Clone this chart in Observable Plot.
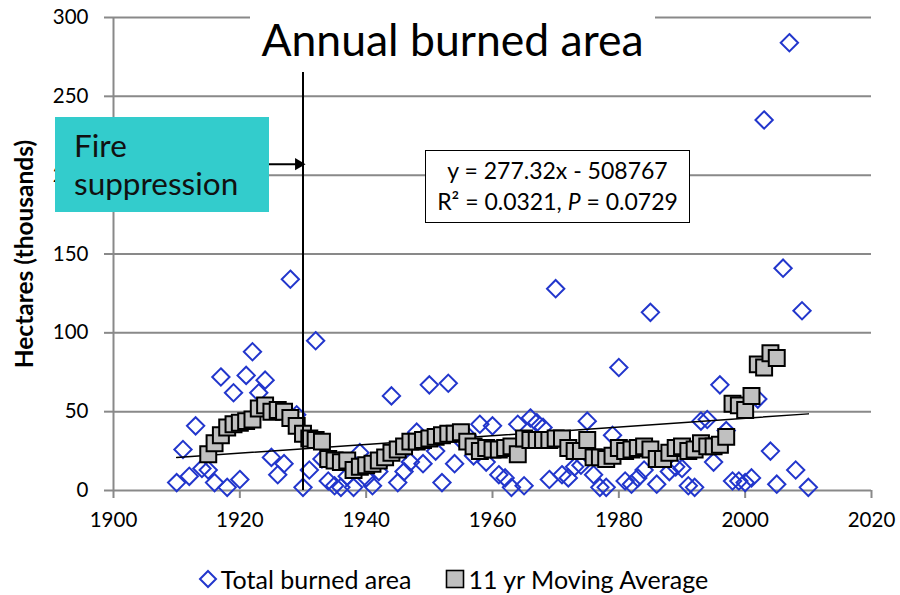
<!DOCTYPE html>
<html><head><meta charset="utf-8">
<script src="https://cdn.jsdelivr.net/npm/d3@7"></script>
<script src="https://cdn.jsdelivr.net/npm/@observablehq/plot@0.6"></script>
<style>
body{margin:0;background:#fff;font-family:Lato,"Open Sans",sans-serif;color:#000;}
#wrap{position:relative;width:900px;height:595px;overflow:hidden;}
#chart svg{display:block;}
#chart g[aria-label="y-axis label"] text{font-weight:bold;font-size:24.5px;}
.title{position:absolute;left:250px;top:0;width:405px;height:72px;background:#fff;text-align:center;font-size:44.5px;padding-top:12px;box-sizing:border-box;line-height:1.2;}
.fire{position:absolute;left:55px;top:117px;width:214px;height:95px;background:#33CCCC;box-sizing:border-box;padding:9px 0 0 19px;font-size:31.5px;line-height:38px;color:#111;}
.eq{position:absolute;left:425px;top:150px;width:265px;height:73px;background:#fff;border:1.5px solid #000;box-sizing:border-box;text-align:center;font-size:23px;line-height:31px;padding-top:4px;}
.legend{position:absolute;left:0;top:560px;width:900px;height:38px;display:flex;justify-content:center;align-items:center;font-size:25px;gap:34px;padding-left:6px;box-sizing:border-box;}
.legend span{display:flex;align-items:center;gap:3px;}
</style></head><body>
<div id="wrap">
  <div id="chart"></div>
  <div class="title">Annual burned area</div>
  <div class="fire">Fire<br>suppression</div>
  <div class="eq">y = 277.32x - 508767<br>R² = 0.0321, <i>P</i> = 0.0729</div>
  <div class="legend">
    <span><svg width="20" height="20"><path d="M10,2L18,10L10,18L2,10Z" fill="none" stroke="#2236cc" stroke-width="2"/></svg>Total burned area</span>
    <span><svg width="20" height="20"><rect x="1.5" y="1.5" width="17" height="17" fill="#c0c0c0" stroke="#000" stroke-width="1.6"/></svg>11 yr Moving Average</span>
  </div>
</div>
<script>
// Annual burned area (thousands of hectares)
const years = [1910,1911,1912,1913,1914,1915,1916,1917,1918,1919,1920,1921,1922,1923,1924,1925,1926,1927,1928,1929,
  1930,1931,1932,1933,1934,1935,1936,1937,1938,1939,1940,1941,1942,1943,1944,1945,1946,1947,1948,1949,
  1950,1951,1952,1953,1954,1955,1956,1957,1958,1959,1960,1961,1962,1963,1964,1965,1966,1967,1968,1969,
  1970,1971,1972,1973,1974,1975,1976,1977,1978,1979,1980,1981,1982,1983,1984,1985,1986,1987,1988,1989,
  1990,1991,1992,1993,1994,1995,1996,1997,1998,1999,2000,2001,2002,2003,2004,2005,2006,2007,2008,2009,2010];
const burned = [5,26,9,41,14,13,5,72,2,62,7,73,88,62,70,21,10,17,134,48,
  2,13,95,20,6,3,2,9,2,24,8,3,12,20,60,5,12,18,37,17,
  67,25,5,68,17,32,35,22,42,18,41,10,8,2,42,3,46,43,40,7,
  128,10,8,15,16,44,10,2,2,35,78,6,4,8,13,113,4,20,12,15,
  14,3,2,44,45,18,67,38,6,6,5,8,58,235,25,4,141,284,13,114,2];

// 11 yr moving average
const maYears = [1915,1916,1917,1918,1919,1920,1921,1922,1923,1924,1925,1926,1927,1928,1929,
  1930,1931,1932,1933,1934,1935,1936,1937,1938,1939,1940,1941,1942,1943,1944,1945,1946,1947,1948,1949,
  1950,1951,1952,1953,1954,1955,1956,1957,1958,1959,1960,1961,1962,1963,1964,1965,1966,1967,1968,1969,
  1970,1971,1972,1973,1974,1975,1976,1977,1978,1979,1980,1981,1982,1983,1984,1985,1986,1987,1988,1989,
  1990,1991,1992,1993,1994,1995,1996,1997,1998,1999,2000,2001,2002,2003,2004,2005];
const maValues = [23,30,35,40,42,43,44,45,52,54,50,51,50,46,41,
  36,33,32,31,20,19,18,19,13,15,16,17,19,21,24,26,28,31,31,32,
  33,34,35,36,36,37,31,28,25,27,26,26,27,28,23,33,32,32,32,32,
  33,33,27,25,25,32,21,21,20,22,27,25,26,27,28,26,20,20,24,27,
  28,25,26,30,28,28,29,34,55,54,51,60,80,78,87,84];

// Linear trend (y = 277.32x - 508767, in thousands) end points
const trendYears = [1910, 2010];
const trendValues = [20.9, 48.6];

const xTicks = [1900,1920,1940,1960,1980,2000,2020];
const yTicks = [0,50,100,150,200,250,300];
const suppressionYear = [1930];
const arrowY = [207];
const arrowFrom = [1924.3];
const arrowTo = [1929.3];

const annual = years.map((y,i)=>({year:y, value:burned[i]}));
const ma = maYears.map((y,i)=>({year:y, value:maValues[i]}));
const trend = trendYears.map((y,i)=>({year:y, value:trendValues[i]}));
const arrow = arrowY.map((v,i)=>({y:v, x1:arrowFrom[i], x2:arrowTo[i]}));

const grid = "#898989";
const chart = Plot.plot({
  width:900, height:560,
  marginLeft:113, marginRight:29, marginTop:17, marginBottom:70,
  x:{domain:[1900,2020]},
  y:{domain:[0,300]},
  style:{fontFamily:"Lato, 'Open Sans', sans-serif", fontSize:"20.5px", color:"#000", background:"transparent", overflow:"visible"},
  marks:[
    Plot.ruleY(yTicks, {stroke:grid, strokeWidth:2}),
    Plot.ruleX([xTicks[0]], {stroke:grid, strokeWidth:2}),
    Plot.axisY({ticks:yTicks, tickSize:9, tickPadding:16, stroke:grid, strokeWidth:2, label:"Hectares (thousands)", labelAnchor:"center", labelArrow:"none", labelOffset:98}),
    Plot.axisX({ticks:xTicks, tickFormat:d=>String(d), tickSize:8, tickPadding:14, stroke:grid, strokeWidth:2, label:null}),
    Plot.dot(annual, {x:"year", y:"value", symbol:"diamond2", r:7.8, stroke:"#2236cc", strokeWidth:2, fill:"none"}),
    Plot.line(trend, {x:"year", y:"value", stroke:"#000", strokeWidth:1.5}),
    Plot.dot(ma, {x:"year", y:"value", symbol:"square", r:9, fill:"#c0c0c0", stroke:"#000", strokeWidth:2}),
    Plot.ruleX(suppressionYear, {y1:0, y2:300, stroke:"#000", strokeWidth:2}),
    Plot.ruleY(arrow, {y:"y", x1:"x1", x2:"x2", stroke:"#000", strokeWidth:2}),
    Plot.dot(arrow, {x:"x2", y:"y", symbol:"triangle", rotate:90, r:4.5, fill:"#000", stroke:"none"})
  ]
});
document.getElementById("chart").appendChild(chart);
</script>
</body></html>
